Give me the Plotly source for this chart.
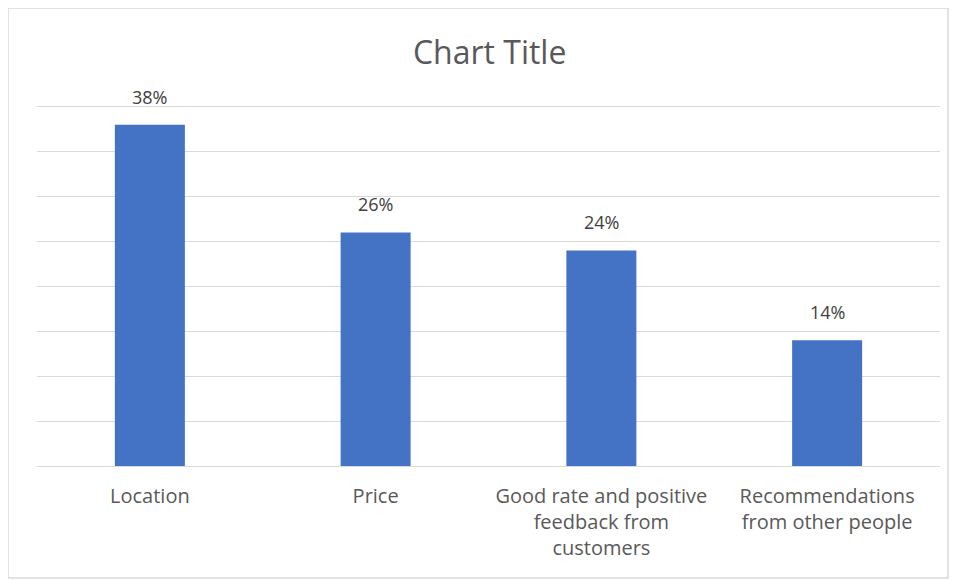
import plotly.graph_objects as go

categories = ["Location", "Price", "Good rate and positive<br>feedback from<br>customers",
              "Recommendations<br>from other people"]
values = [0.38, 0.26, 0.24, 0.14]
labels = ["38%", "26%", "24%", "14%"]

FONT = "Open Sans"
fig = go.Figure(go.Bar(
    x=categories, y=values,
    marker=dict(color="#4472C4", line=dict(width=0)),
    width=0.31,
    hoverinfo="x+y",
))
for c, v, t in zip(categories, values, labels):
    fig.add_annotation(x=c, y=v, text=t, showarrow=False, yanchor="bottom",
                       yshift=14, font=dict(size=18, color="#404040", family=FONT))

fig.update_layout(
    width=950, height=572,
    margin=dict(l=29, r=18, t=96, b=114),
    paper_bgcolor="white", plot_bgcolor="white",
    title=dict(text="Chart Title", x=0.507, xanchor="center", y=1 - 45 / 572, yanchor="middle",
               font=dict(size=32, color="#595959", family=FONT)),
    font=dict(family=FONT, color="#595959"),
    showlegend=False,
)
fig.update_yaxes(range=[0, 0.403], dtick=0.05, showticklabels=False,
                 gridcolor="#d9d9d9", gridwidth=1, zeroline=False, showline=False)
fig.update_xaxes(tickfont=dict(size=20, color="#595959", family=FONT), showline=True,
                 linecolor="#d9d9d9", linewidth=1, ticks="", ticklen=0,
                 ticklabelstandoff=12)
fig.add_shape(type="rect", xref="paper", yref="paper",
              x0=-29 / 903, x1=911 / 903, y0=-112 / 362, y1=1 + 96 / 362,
              line=dict(color="#d9d9d9", width=1.5), fillcolor="rgba(0,0,0,0)")
fig.write_html("out.html")
